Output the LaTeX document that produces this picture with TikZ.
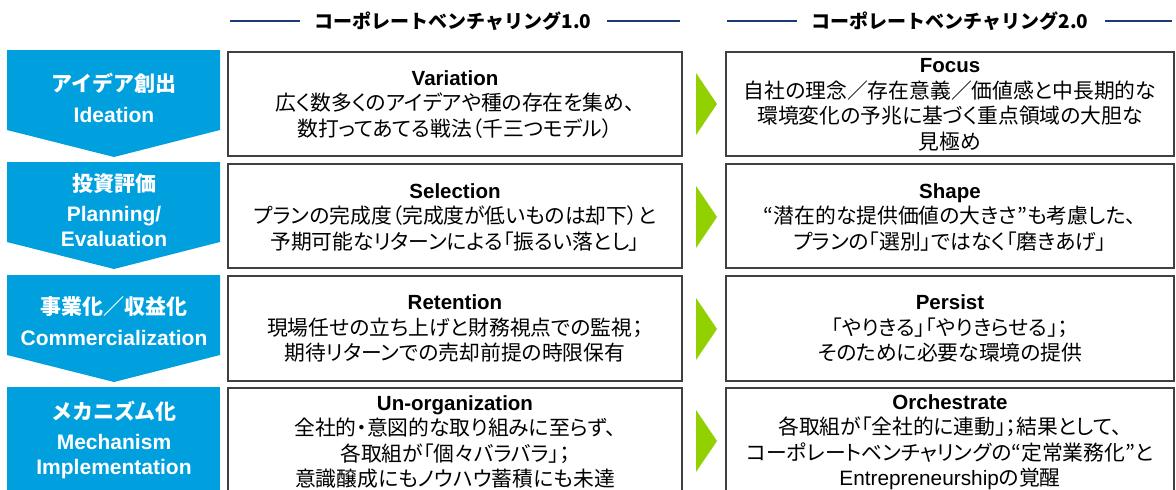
\documentclass[tikz,border=0pt]{standalone}
\usepackage{fontspec}
\setmainfont{Liberation Sans}
\newfontfamily\jp{Noto Sans CJK JP}[RawFeature=+palt]
\newfontfamily\jph{Noto Sans CJK JP}
\newfontfamily\en{Liberation Sans}
\definecolor{cvblue}{HTML}{00A0DF}
\definecolor{cvgreen}{HTML}{92D000}
\definecolor{cvnavy}{HTML}{1A3A7C}
\definecolor{cvgray}{HTML}{404040}
\newcommand{\boxtitle}[1]{{\en\bfseries\fontsize{20.5}{25.5}\selectfont #1}}
\newcommand{\lbljp}[1]{{\jph\bfseries #1}}
\newcommand{\lblen}[1]{{\en\bfseries #1}}
\begin{document}
\begin{tikzpicture}[x=1pt,y=-1pt,
  box/.style={draw=cvgray,line width=1.4pt,fill=white},
  body/.style={align=center,font=\jp\fontsize{20.8}{25.5}\selectfont,text=black,inner sep=0pt},
  lbl/.style={align=center,text=white,inner sep=0pt,font=\fontsize{21}{25}\selectfont},
  hdr/.style={font=\jph\bfseries\fontsize{19}{22}\selectfont,inner sep=0pt},
  hline/.style={draw=cvnavy,line width=1.6pt},
  chev/.style={fill=cvblue},
  tri/.style={fill=cvgreen}]
\useasboundingbox (0,0) rectangle (1176,490);
\fill[white] (0,0) rectangle (1176,490);

% headers
\node[hdr] (h1) at (453,21) {コーポレートベンチャリング1.0};
\node[hdr] (h2) at (950,21) {コーポレートベンチャリング2.0};
\coordinate (h1a) at (230,21); \coordinate (h1b) at (300,21);
\coordinate (h1c) at (607,21); \coordinate (h1d) at (680,21);
\coordinate (h2a) at (727,21); \coordinate (h2b) at (797,21);
\coordinate (h2c) at (1105,21); \coordinate (h2d) at (1172,21);
\draw[hline] (h1a) -- (h1b);
\draw[hline] (h1c) -- (h1d);
\draw[hline] (h2a) -- (h2b);
\draw[hline] (h2c) -- (h2d);

% chevrons
\fill[chev] (7,50) -- (220,50) -- (220,130) -- (114,157) -- (7,130) -- cycle;
\fill[chev] (7,162) -- (220,162) -- (220,242) -- (114,269) -- (7,242) -- cycle;
\fill[chev] (7,275) -- (220,275) -- (220,355) -- (114,382) -- (7,355) -- cycle;
\fill[chev] (7,387) -- (220,387) -- (220,500) -- (7,500) -- cycle;

\node[lbl] (l1) at (114,97.5) {\lbljp{アイデア創出}\\[6pt]\lblen{Ideation}};
\node[lbl] (l2) at (114,210) {\lbljp{投資評価}\\[5pt]\lblen{Planning/}\\\lblen{Evaluation}};
\node[lbl] (l3) at (114,321) {\lbljp{事業化／収益化}\\[6pt]\lblen{Commercialization}};
\node[lbl] (l4) at (114,440) {\lbljp{メカニズム化}\\[5pt]\lblen{Mechanism}\\\lblen{Implementation}};

% boxes
\draw[box] (228,52) rectangle (682,156);
\draw[box] (228,164) rectangle (682,268);
\draw[box] (228,276) rectangle (682,381);
\draw[box] (228,388) rectangle (682,500);
\draw[box] (726,52) rectangle (1174,156);
\draw[box] (726,164) rectangle (1174,268);
\draw[box] (726,276) rectangle (1174,381);
\draw[box] (726,388) rectangle (1174,500);

% triangles
\fill[tri] (696,73) -- (717,104) -- (696,135) -- cycle;
\fill[tri] (696,186) -- (717,217) -- (696,248) -- cycle;
\fill[tri] (696,298) -- (717,329) -- (696,360) -- cycle;
\fill[tri] (696,410) -- (717,441) -- (696,472) -- cycle;

% texts
\node[body] (a1) at (455,104.5) {\boxtitle{Variation}\\広く数多くのアイデアや種の存在を集め、\\数打ってあてる戦法（千三つモデル）};
\node[body] (b1) at (950,105) {\boxtitle{Focus}\\自社の理念／存在意義／価値感と中長期的な\\環境変化の予兆に基づく重点領域の大胆な\\見極め};
\node[body] (a2) at (455,217) {\boxtitle{Selection}\\プランの完成度（完成度が低いものは却下）と\\予期可能なリターンによる「振るい落とし」};
\node[body] (b2) at (950,217) {\boxtitle{Shape}\\“潜在的な提供価値の大きさ”も考慮した、\\プランの「選別」ではなく「磨きあげ」};
\node[body] (a3) at (455,328.5) {\boxtitle{Retention}\\現場任せの立ち上げと財務視点での監視；\\期待リターンでの売却前提の時限保有};
\node[body] (b3) at (950,328.5) {\boxtitle{Persist}\\「やりきる」「やりきらせる」；\\そのために必要な環境の提供};
\node[body] (a4) at (455,442) {\boxtitle{Un-organization}\\全社的・意図的な取り組みに至らず、\\各取組が「個々バラバラ」；\\意識醸成にもノウハウ蓄積にも未達};
\node[body] (b4) at (950,442) {\boxtitle{Orchestrate}\\各取組が「全社的に連動」；結果として、\\コーポレートベンチャリングの“定常業務化”と\\{\en Entrepreneurship}の覚醒};
\end{tikzpicture}
\end{document}
